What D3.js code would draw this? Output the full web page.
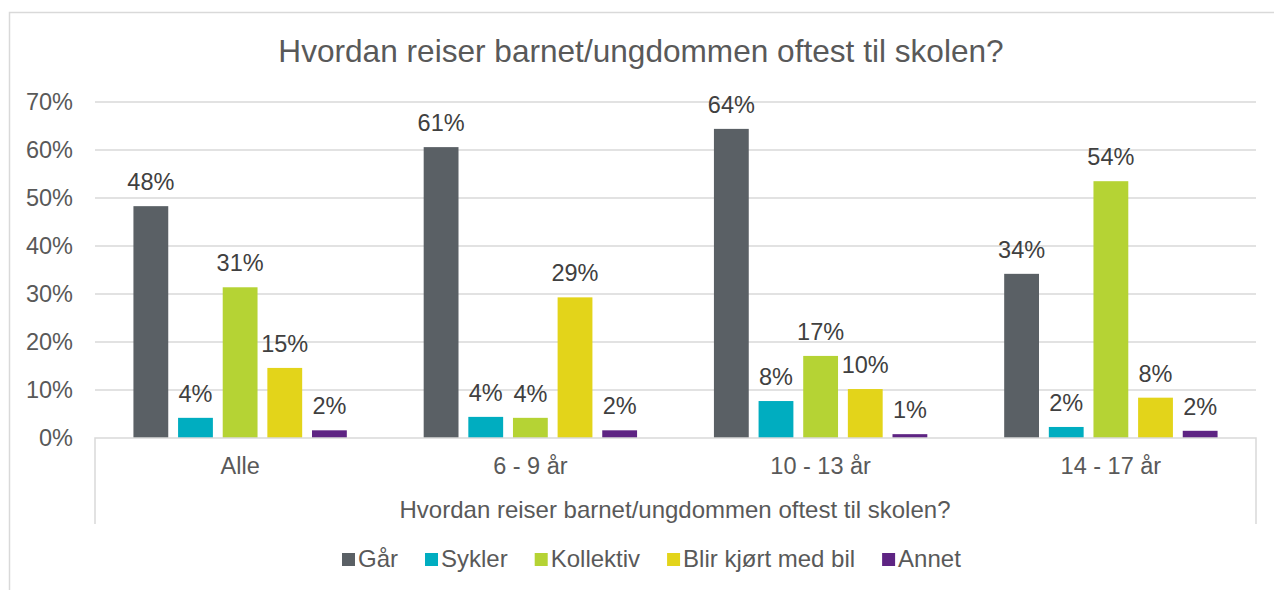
<!DOCTYPE html>
<html>
<head>
<meta charset="utf-8">
<script src="https://cdn.jsdelivr.net/npm/d3@7"></script>
<style>
  html, body { margin: 0; padding: 0; background: #fff; }
  svg { display: block; }
  text { font-family: "Liberation Sans", Arial, sans-serif; }
</style>
</head>
<body>
<svg id="chart" width="1274" height="590"></svg>
<script>
const categories = ["Alle", "6 - 9 år", "10 - 13 år", "14 - 17 år"];
const seriesNames = ["Går", "Sykler", "Kollektiv", "Blir kjørt med bil", "Annet"];
const seriesColors = ["#5a6065", "#00adc0", "#b5d334", "#e3d41a", "#5e2483"];
const gaar      = [48.3, 60.6, 64.4, 34.2];
const sykler    = [4.2, 4.4, 7.7, 2.3];
const kollektiv = [31.4, 4.2, 17.1, 53.5];
const blir      = [14.6, 29.3, 10.2, 8.4];
const annet     = [1.6, 1.6, 0.8, 1.5];
const yTicks = [0, 10, 20, 30, 40, 50, 60, 70];
const chartTitle = "Hvordan reiser barnet/ungdommen oftest til skolen?";
const axisTitle = "Hvordan reiser barnet/ungdommen oftest til skolen?";

(function () {
const seriesValues = [gaar, sykler, kollektiv, blir, annet];
const data = categories.map((c, i) => ({
  cat: c,
  vals: seriesNames.map((s, j) => ({ series: s, color: seriesColors[j], value: seriesValues[j][i] }))
}));

const svg = d3.select("#chart");
const W = 1274, H = 590;
const pLeft = 95, pRight = 1256, pTop = 102, pBottom = 438;

// outer border
svg.append("path")
  .attr("d", `M9.5,${H} L9.5,12.5 L${W},12.5`)
  .attr("fill", "none").attr("stroke", "#d9d9d9").attr("stroke-width", 1.5);

// title
svg.append("text")
  .attr("x", 641).attr("y", 62)
  .attr("text-anchor", "middle")
  .attr("font-size", 31.6).attr("fill", "#595959")
  .text(chartTitle);

const x0 = d3.scaleBand().domain(categories).range([pLeft, pRight]).paddingInner(0).paddingOuter(0);
const x1 = d3.scaleBand().domain(seriesNames).range([0, x0.bandwidth()]).paddingInner(0.22).paddingOuter(0.861);
const y = d3.scaleLinear().domain([0, 70]).range([pBottom, pTop]);

// gridlines
svg.append("g").selectAll("line").data(yTicks.filter(t => t > 0)).join("line")
  .attr("x1", pLeft).attr("x2", pRight)
  .attr("y1", d => y(d)).attr("y2", d => y(d))
  .attr("stroke", "#d9d9d9").attr("stroke-width", 1.5);

// y tick labels
svg.append("g").selectAll("text").data(yTicks).join("text")
  .attr("x", 73).attr("y", d => y(d)).attr("dy", "0.35em")
  .attr("text-anchor", "end").attr("font-size", 23.5).attr("fill", "#595959")
  .text(d => d + "%");

// bars
const groups = svg.append("g").selectAll("g").data(data).join("g")
  .attr("transform", d => `translate(${x0(d.cat)},0)`);

groups.selectAll("rect").data(d => d.vals).join("rect")
  .attr("x", d => x1(d.series))
  .attr("width", x1.bandwidth())
  .attr("y", d => y(d.value))
  .attr("height", d => y(0) - y(d.value))
  .attr("fill", d => d.color);

groups.selectAll("text").data(d => d.vals).join("text")
  .attr("x", d => x1(d.series) + x1.bandwidth() / 2)
  .attr("y", d => y(d.value) - 16)
  .attr("text-anchor", "middle").attr("font-size", 23.5).attr("fill", "#404040")
  .text(d => Math.round(d.value) + "%");

// x axis line and end verticals
svg.append("path")
  .attr("d", `M${pLeft},524 L${pLeft},${pBottom} L${pRight},${pBottom} L${pRight},524`)
  .attr("fill", "none").attr("stroke", "#d9d9d9").attr("stroke-width", 1.5);

// category labels
svg.append("g").selectAll("text").data(categories).join("text")
  .attr("x", d => x0(d) + x0.bandwidth() / 2).attr("y", 474)
  .attr("text-anchor", "middle").attr("font-size", 23.5).attr("fill", "#595959")
  .text(d => d);

// axis title
svg.append("text")
  .attr("x", 675).attr("y", 518)
  .attr("text-anchor", "middle").attr("font-size", 24).attr("fill", "#595959")
  .text(axisTitle);

// legend
const legend = svg.append("g");
let lx = 342;
seriesNames.forEach((s, i) => {
  legend.append("rect").attr("x", lx).attr("y", 553).attr("width", 13).attr("height", 13)
    .attr("fill", seriesColors[i]);
  const t = legend.append("text").attr("x", lx + 16).attr("y", 567)
    .attr("font-size", 24).attr("fill", "#595959").text(s);
  lx += 16 + t.node().getComputedTextLength() + 27;
});
})();
</script>
</body>
</html>
